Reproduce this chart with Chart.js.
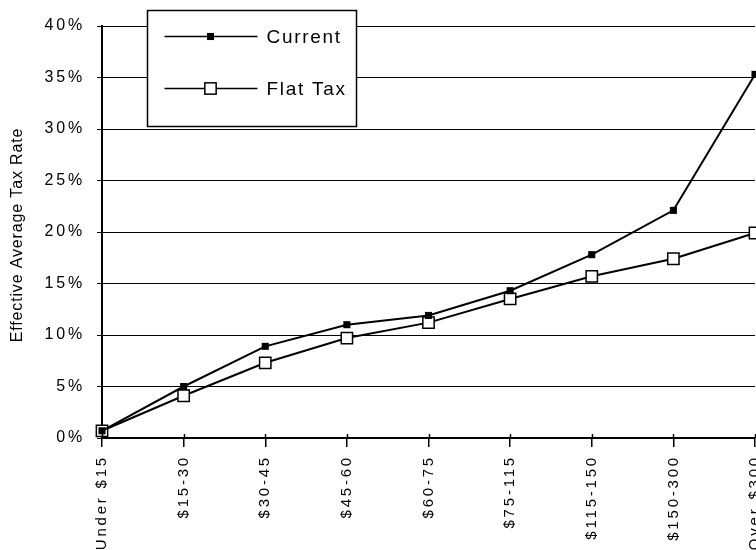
<!DOCTYPE html>
<html>
<head>
<meta charset="utf-8">
<script src="https://cdn.jsdelivr.net/npm/chart.js@4/dist/chart.umd.min.js"></script>
<style>
  html, body { margin: 0; padding: 0; background: #fff; }
  #wrap { width: 756px; height: 550px; }
</style>
</head>
<body>
<div id="wrap"><canvas id="taxChart" width="756" height="550"></canvas></div>
<script>
// income brackets ($000) and effective average tax rates (%)
const categories = ["Under $15", "$15-30", "$30-45", "$45-60", "$60-75", "$75-115", "$115-150", "$150-300", "Over $300"];
const currentRates = [0.7, 5.0, 8.9, 11.0, 11.9, 14.3, 17.8, 22.1, 35.3];
const flatTaxRates = [0.7, 4.1, 7.3, 9.7, 11.2, 13.5, 15.7, 17.4, 19.9];
const yMin = 0;
const yMax = 40;
const yStep = 5;
const yTitle = "Effective Average Tax Rate";

const FONT = "'Liberation Sans', Arial, Helvetica, sans-serif";
const TICK_SPACING = "2.8px";

// draws the boxed legend, the rotated y title and the small tick marks above the x axis
const decor = {
  id: "decor",
  beforeUpdate(chart) {
    chart.ctx.letterSpacing = TICK_SPACING;
  },
  beforeDraw(chart) {
    chart.ctx.letterSpacing = TICK_SPACING;
  },
  afterDraw(chart) {
    const ctx = chart.ctx;
    const area = chart.chartArea;
    const xScale = chart.scales.x;
    ctx.save();

    // tick marks poke above the axis a little
    ctx.strokeStyle = "#000";
    ctx.lineWidth = 1.5;
    for (let i = 0; i < categories.length; i++) {
      const px = Math.round(xScale.getPixelForTick(i)) + 0.5;
      ctx.beginPath();
      ctx.moveTo(px, area.bottom - 4);
      ctx.lineTo(px, area.bottom);
      ctx.stroke();
    }

    // y title
    ctx.letterSpacing = "0.85px";
    ctx.font = "16px " + FONT;
    ctx.fillStyle = "#000";
    ctx.textAlign = "center";
    ctx.textBaseline = "middle";
    ctx.translate(18, (area.top + area.bottom) / 2 + 3);
    ctx.rotate(-Math.PI / 2);
    ctx.fillText(yTitle, 0, 0);
    ctx.setTransform(1, 0, 0, 1, 0, 0);

    // legend box
    const bx = area.left + 45.5, by = area.top - 15.5, bw = 209, bh = 116;
    ctx.fillStyle = "#fff";
    ctx.fillRect(bx, by, bw, bh);
    ctx.strokeStyle = "#000";
    ctx.lineWidth = 1.5;
    ctx.strokeRect(bx, by, bw, bh);

    ctx.letterSpacing = "1.7px";
    ctx.font = "19px " + FONT;
    ctx.textAlign = "left";
    chart.data.datasets.forEach((ds, i) => {
      const ly = by + 26 + i * 52;
      ctx.beginPath();
      ctx.moveTo(bx + 17, ly);
      ctx.lineTo(bx + 110, ly);
      ctx.lineWidth = 1.5;
      ctx.strokeStyle = "#000";
      ctx.stroke();
      const side = ds.pointRadius * Math.SQRT2;
      ctx.fillStyle = ds.pointBackgroundColor;
      ctx.fillRect(bx + 63 - side / 2, ly - side / 2, side, side);
      if (ds.pointBorderWidth) {
        ctx.lineWidth = ds.pointBorderWidth;
        ctx.strokeRect(bx + 63 - side / 2, ly - side / 2, side, side);
      }
      ctx.fillStyle = "#000";
      ctx.textBaseline = "middle";
      ctx.fillText(ds.label, bx + 119, ly + 1);
    });
    ctx.restore();
  }
};

const ctx = document.getElementById("taxChart").getContext("2d");
const taxChart = new Chart(ctx, {
  type: "line",
  data: {
    labels: categories,
    datasets: [
      {
        label: "Current",
        data: currentRates,
        borderColor: "#000",
        borderWidth: 2,
        pointStyle: "rect",
        pointRadius: 5,
        pointBackgroundColor: "#000",
        pointBorderColor: "#000",
        pointBorderWidth: 0,
        tension: 0,
        clip: false
      },
      {
        label: "Flat Tax",
        data: flatTaxRates,
        borderColor: "#000",
        borderWidth: 2,
        pointStyle: "rect",
        pointRadius: 8,
        pointBackgroundColor: "#fff",
        pointBorderColor: "#000",
        pointBorderWidth: 1.5,
        tension: 0,
        clip: false
      }
    ]
  },
  options: {
    responsive: false,
    animation: false,
    layout: { autoPadding: false, padding: { left: 0, top: 26, right: 1, bottom: 0 } },
    plugins: {
      legend: { display: false },
      tooltip: { enabled: false }
    },
    scales: {
      x: {
        type: "category",
        offset: false,
        grid: { drawOnChartArea: false, color: "#000", lineWidth: 1.5, tickLength: 9 },
        border: { color: "#000", width: 2 },
        ticks: {
          minRotation: 90,
          maxRotation: 90,
          autoSkip: false,
          padding: 8,
          color: "#000",
          font: { family: FONT, size: 15 }
        },
        afterFit(scale) {
          scale.height = 112;
          scale.paddingLeft = 0;
          scale.paddingRight = 0;
        }
      },
      y: {
        min: yMin,
        max: yMax,
        grid: { color: "#000", lineWidth: 1, tickLength: 5 },
        border: { color: "#000", width: 2 },
        ticks: {
          stepSize: yStep,
          padding: 12,
          color: "#000",
          font: { family: FONT, size: 16 },
          callback: (v) => v + "%"
        },
        afterFit(scale) {
          scale.width = 102;
          scale.paddingTop = 0;
          scale.paddingBottom = 0;
        }
      }
    }
  },
  plugins: [decor]
});
</script>
</body>
</html>
